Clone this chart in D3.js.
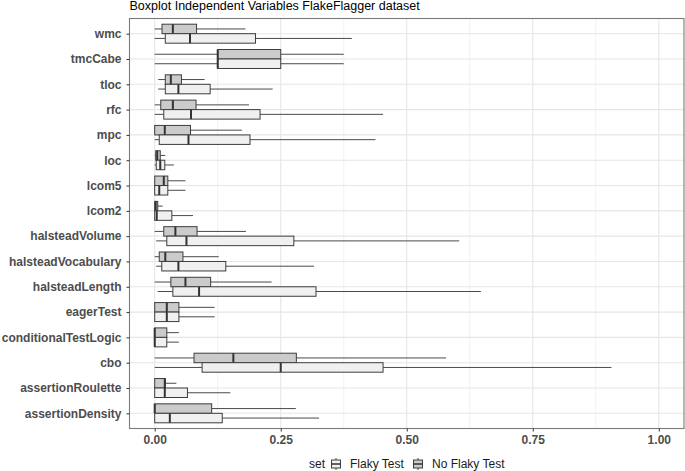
<!DOCTYPE html>
<html>
<head>
<meta charset="utf-8">
<script src="https://cdn.jsdelivr.net/npm/d3@7"></script>
<style>
  body { margin: 0; background: #fff; }
  svg { display: block; font-family: "Liberation Sans", Arial, sans-serif; }
</style>
</head>
<body>
<svg id="chart" width="685" height="471"></svg>
<script>
// variables, top to bottom as in the plot
const variables = ["wmc", "tmcCabe", "tloc", "rfc", "mpc", "loc", "lcom5", "lcom2",
    "halsteadVolume", "halsteadVocabulary", "halsteadLength", "eagerTest",
    "conditionalTestLogic", "cbo", "assertionRoulette", "assertionDensity"];

const sets = ["Flaky Test", "No Flaky Test"];

// five-number summaries (normalised 0..1)
const noFlakyLow  = [0, 0, 0.007, 0, 0, 0, 0, 0, 0, 0, 0, 0, 0, 0, 0, 0];
const noFlakyQ1   = [0.0145, 0.125, 0.021, 0.012, 0, 0.002, 0, 0, 0.018, 0.009, 0.032, 0, 0, 0.078, 0, 0];
const noFlakyMed  = [0.036, 0.125, 0.032, 0.036, 0.020, 0.005, 0.018, 0.002, 0.041, 0.021, 0.061, 0.024, 0, 0.156, 0.020, 0];
const noFlakyQ3   = [0.083, 0.25, 0.053, 0.082, 0.071, 0.011, 0.026, 0.006, 0.084, 0.056, 0.111, 0.048, 0.024, 0.281, 0.021, 0.113];
const noFlakyHigh = [0.180, 0.375, 0.099, 0.187, 0.173, 0.021, 0.061, 0.016, 0.181, 0.127, 0.232, 0.119, 0.048, 0.578, 0.043, 0.280];

const flakyLow  = [0, 0, 0.007, 0, 0, 0, 0, 0, 0.003, 0.003, 0.006, 0, 0, 0, 0, 0];
const flakyQ1   = [0.021, 0.125, 0.021, 0.018, 0.009, 0.003, 0, 0, 0.024, 0.014, 0.036, 0, 0, 0.094, 0, 0];
const flakyMed  = [0.070, 0.125, 0.047, 0.072, 0.067, 0.011, 0.009, 0.004, 0.063, 0.047, 0.088, 0.024, 0, 0.250, 0.020, 0.030];
const flakyQ3   = [0.200, 0.25, 0.110, 0.209, 0.189, 0.020, 0.026, 0.034, 0.276, 0.141, 0.320, 0.048, 0.024, 0.453, 0.065, 0.134];
const flakyHigh = [0.391, 0.375, 0.234, 0.453, 0.438, 0.038, 0.061, 0.076, 0.604, 0.316, 0.647, 0.119, 0.048, 0.906, 0.150, 0.326];

const xTicks = [0, 0.25, 0.5, 0.75, 1];
const xMinor = [0.125, 0.375, 0.625, 0.875];

const fills = {"Flaky Test": "#f0f0f0", "No Flaky Test": "#cbcbcb"};

// build rows for drawing
const boxes = [];
variables.forEach((v, i) => {
    boxes.push({variable: v, set: "No Flaky Test",
        low: noFlakyLow[i], q1: noFlakyQ1[i], med: noFlakyMed[i], q3: noFlakyQ3[i], high: noFlakyHigh[i]});
    boxes.push({variable: v, set: "Flaky Test",
        low: flakyLow[i], q1: flakyQ1[i], med: flakyMed[i], q3: flakyQ3[i], high: flakyHigh[i]});
});

const panel = {left: 129.5, right: 684, top: 18.5, bottom: 428.5};

const svg = d3.select("#chart");

const x = d3.scaleLinear()
    .domain([-0.05, 1.05])
    .range([panel.left, panel.right]);

const y = d3.scalePoint()
    .domain(variables)
    .range([panel.top, panel.bottom])
    .padding(0.6);

const step = y.step();
const boxH = step * 0.375;

// sub-position: No Flaky on top, Flaky below
const dodge = d3.scaleBand()
    .domain(["No Flaky Test", "Flaky Test"])
    .range([-boxH, boxH]);

// title
svg.append("text")
    .attr("x", panel.left)
    .attr("y", 10)
    .attr("font-size", "12.5px")
    .attr("fill", "#000")
    .text("Boxplot Independent Variables FlakeFlagger dataset");

// grid
const grid = svg.append("g").attr("class", "grid");

grid.selectAll("line.minor")
    .data(xMinor)
    .join("line")
    .attr("class", "minor")
    .attr("x1", d => x(d)).attr("x2", d => x(d))
    .attr("y1", panel.top).attr("y2", panel.bottom)
    .attr("stroke", "#f2f2f2")
    .attr("stroke-width", 1);

grid.selectAll("line.vmajor")
    .data(xTicks)
    .join("line")
    .attr("class", "vmajor")
    .attr("x1", d => x(d)).attr("x2", d => x(d))
    .attr("y1", panel.top).attr("y2", panel.bottom)
    .attr("stroke", "#e6e6e6")
    .attr("stroke-width", 1.1);

grid.selectAll("line.hmajor")
    .data(variables)
    .join("line")
    .attr("class", "hmajor")
    .attr("x1", panel.left).attr("x2", panel.right)
    .attr("y1", d => y(d)).attr("y2", d => y(d))
    .attr("stroke", "#e6e6e6")
    .attr("stroke-width", 1.1);

// boxplots
const g = svg.append("g").attr("class", "boxes")
    .selectAll("g")
    .data(boxes)
    .join("g")
    .attr("transform", d => `translate(0, ${y(d.variable) + dodge(d.set) + dodge.bandwidth() / 2})`);

// whiskers
g.append("line")
    .attr("x1", d => x(d.low)).attr("x2", d => x(d.q1))
    .attr("stroke", "#4a4a4a").attr("stroke-width", 1);
g.append("line")
    .attr("x1", d => x(d.q3)).attr("x2", d => x(d.high))
    .attr("stroke", "#4a4a4a").attr("stroke-width", 1);

g.append("rect")
    .attr("x", d => x(d.q1))
    .attr("y", -dodge.bandwidth() / 2)
    .attr("width", d => x(d.q3) - x(d.q1))
    .attr("height", dodge.bandwidth())
    .attr("fill", d => fills[d.set])
    .attr("stroke", "#3d3d3d")
    .attr("stroke-width", 1);

g.append("line")
    .attr("x1", d => x(d.med)).attr("x2", d => x(d.med))
    .attr("y1", -dodge.bandwidth() / 2).attr("y2", dodge.bandwidth() / 2)
    .attr("stroke", "#333")
    .attr("stroke-width", 2);

// panel border
svg.append("rect")
    .attr("x", panel.left).attr("y", panel.top)
    .attr("width", panel.right - panel.left)
    .attr("height", panel.bottom - panel.top)
    .attr("fill", "none")
    .attr("stroke", "#7a7a7a")
    .attr("stroke-width", 1.1);

// x axis
const xAxis = svg.append("g")
    .attr("transform", `translate(0, ${panel.bottom})`)
    .call(d3.axisBottom(x).tickValues(xTicks).tickFormat(d3.format(".2f")).tickSize(3).tickPadding(4));
xAxis.select(".domain").remove();
xAxis.selectAll(".tick line").attr("stroke", "#333");
xAxis.selectAll(".tick text")
    .attr("font-size", "12px")
    .attr("font-weight", "bold")
    .attr("font-family", "Liberation Sans, Arial, sans-serif")
    .attr("fill", "#4d4d4d");

// y axis
const yAxis = svg.append("g")
    .attr("transform", `translate(${panel.left}, 0)`)
    .call(d3.axisLeft(y).tickSize(3).tickPadding(5));
yAxis.select(".domain").remove();
yAxis.selectAll(".tick line").attr("stroke", "#333");
yAxis.selectAll(".tick text")
    .attr("font-size", "12px")
    .attr("font-weight", "bold")
    .attr("font-family", "Liberation Sans, Arial, sans-serif")
    .attr("fill", "#4d4d4d");

// legend
const legend = svg.append("g").attr("class", "legend")
    .attr("transform", "translate(0, 464)");

legend.append("text")
    .attr("x", 309).attr("dy", "0.35em")
    .attr("font-size", "12px")
    .attr("fill", "#1a1a1a")
    .text("set");

const keyX = {"Flaky Test": 331, "No Flaky Test": 413};
const key = legend.selectAll("g.key")
    .data(sets)
    .join("g")
    .attr("class", "key")
    .attr("transform", d => `translate(${keyX[d]}, 0)`);

key.append("line")
    .attr("x1", 5).attr("x2", 5).attr("y1", -6).attr("y2", 6)
    .attr("stroke", "#4a4a4a");
key.append("rect")
    .attr("x", 0.5).attr("y", -4).attr("width", 9).attr("height", 8)
    .attr("fill", d => fills[d])
    .attr("stroke", "#3d3d3d");
key.append("line")
    .attr("x1", 0.5).attr("x2", 9.5).attr("y1", 0).attr("y2", 0)
    .attr("stroke", "#333").attr("stroke-width", 1.5);
key.append("text")
    .attr("x", 19).attr("dy", "0.35em")
    .attr("font-size", "12px")
    .attr("fill", "#1a1a1a")
    .text(d => d);
</script>
</body>
</html>
